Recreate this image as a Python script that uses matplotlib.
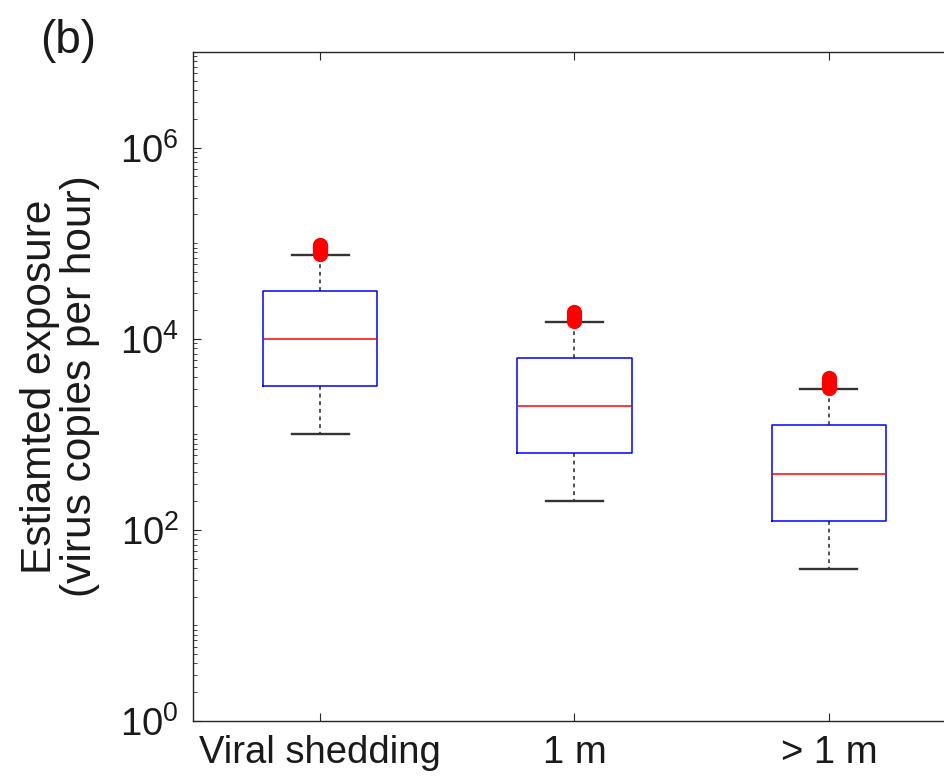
import numpy as np
import matplotlib
matplotlib.use('Agg')
import matplotlib.pyplot as plt
from matplotlib.ticker import LogLocator, NullFormatter

plt.rcParams['font.family'] = ['Liberation Sans', 'DejaVu Sans']
plt.rcParams['mathtext.fontset'] = 'custom'
plt.rcParams['mathtext.rm'] = 'Liberation Sans'
plt.rcParams['mathtext.it'] = 'Liberation Sans:italic'
plt.rcParams['mathtext.default'] = 'regular'

# box statistics per group (virus copies per hour)
groups = ['Viral shedding', '1 m', '> 1 m']
medians = [10000, 1980, 387]
q1 = [3220, 632, 124]
q3 = [31600, 6290, 1250]
whislo = [1000, 200, 39]
whishi = [75000, 14900, 2980]
outliers = [
    [77000, 80000, 84000, 88000, 92000, 96000],
    [15200, 16000, 17000, 18000, 19000],
    [3050, 3250, 3450, 3650, 3900],
]
yticks = [1, 1e2, 1e4, 1e6]
yticklabels = [r'$10^{0}$', r'$10^{2}$', r'$10^{4}$', r'$10^{6}$']

stats = []
for g, m, a, b, lo, hi, f in zip(groups, medians, q1, q3, whislo, whishi, outliers):
    stats.append(dict(label=g, med=m, q1=a, q3=b, whislo=lo, whishi=hi, fliers=f))

fig = plt.figure(figsize=(9.45, 7.8), dpi=100)
ax = fig.add_axes([193/945, 59/780, (956-193)/945, (721-52)/780])

ax.bxp(stats, positions=[1, 2, 3], widths=0.45, capwidths=0.225,
       boxprops=dict(color='blue', lw=1.1),
       medianprops=dict(color='red', lw=1.1),
       whiskerprops=dict(color='#222222', lw=1.1, linestyle=(0, (2.5, 2.5))),
       capprops=dict(color='#333333', lw=1.7),
       flierprops=dict(marker='o', markerfacecolor='red', markeredgecolor='red',
                       markersize=10))

ax.set_yscale('log')
ax.set_ylim(1, 1e7)
ax.set_xlim(0.5, 3.5)
ax.set_yticks(yticks, labels=yticklabels)
ax.yaxis.set_minor_locator(LogLocator(base=10, subs=np.arange(1, 10), numticks=30))
ax.yaxis.set_minor_formatter(NullFormatter())

for s in ax.spines.values():
    s.set_color('#262626')
    s.set_linewidth(1.0)
ax.tick_params(which='both', direction='in', top=True, right=True, color='#262626')
ax.tick_params(which='major', length=6, width=0.8, labelsize=27.5, pad=10, labelcolor='#1a1a1a')
ax.tick_params(which='minor', length=3, width=0.6)

ax.set_ylabel('Estiamted exposure\n(virus copies per hour)', fontsize=30.5,
              linespacing=1.0, color='#1a1a1a')
ax.yaxis.set_label_coords(-0.122, 0.5)

fig.text(40/945, 1 - 53/780, '(b)', fontsize=33, color='#1a1a1a', va='baseline')

fig.savefig('out.png', dpi=100)
